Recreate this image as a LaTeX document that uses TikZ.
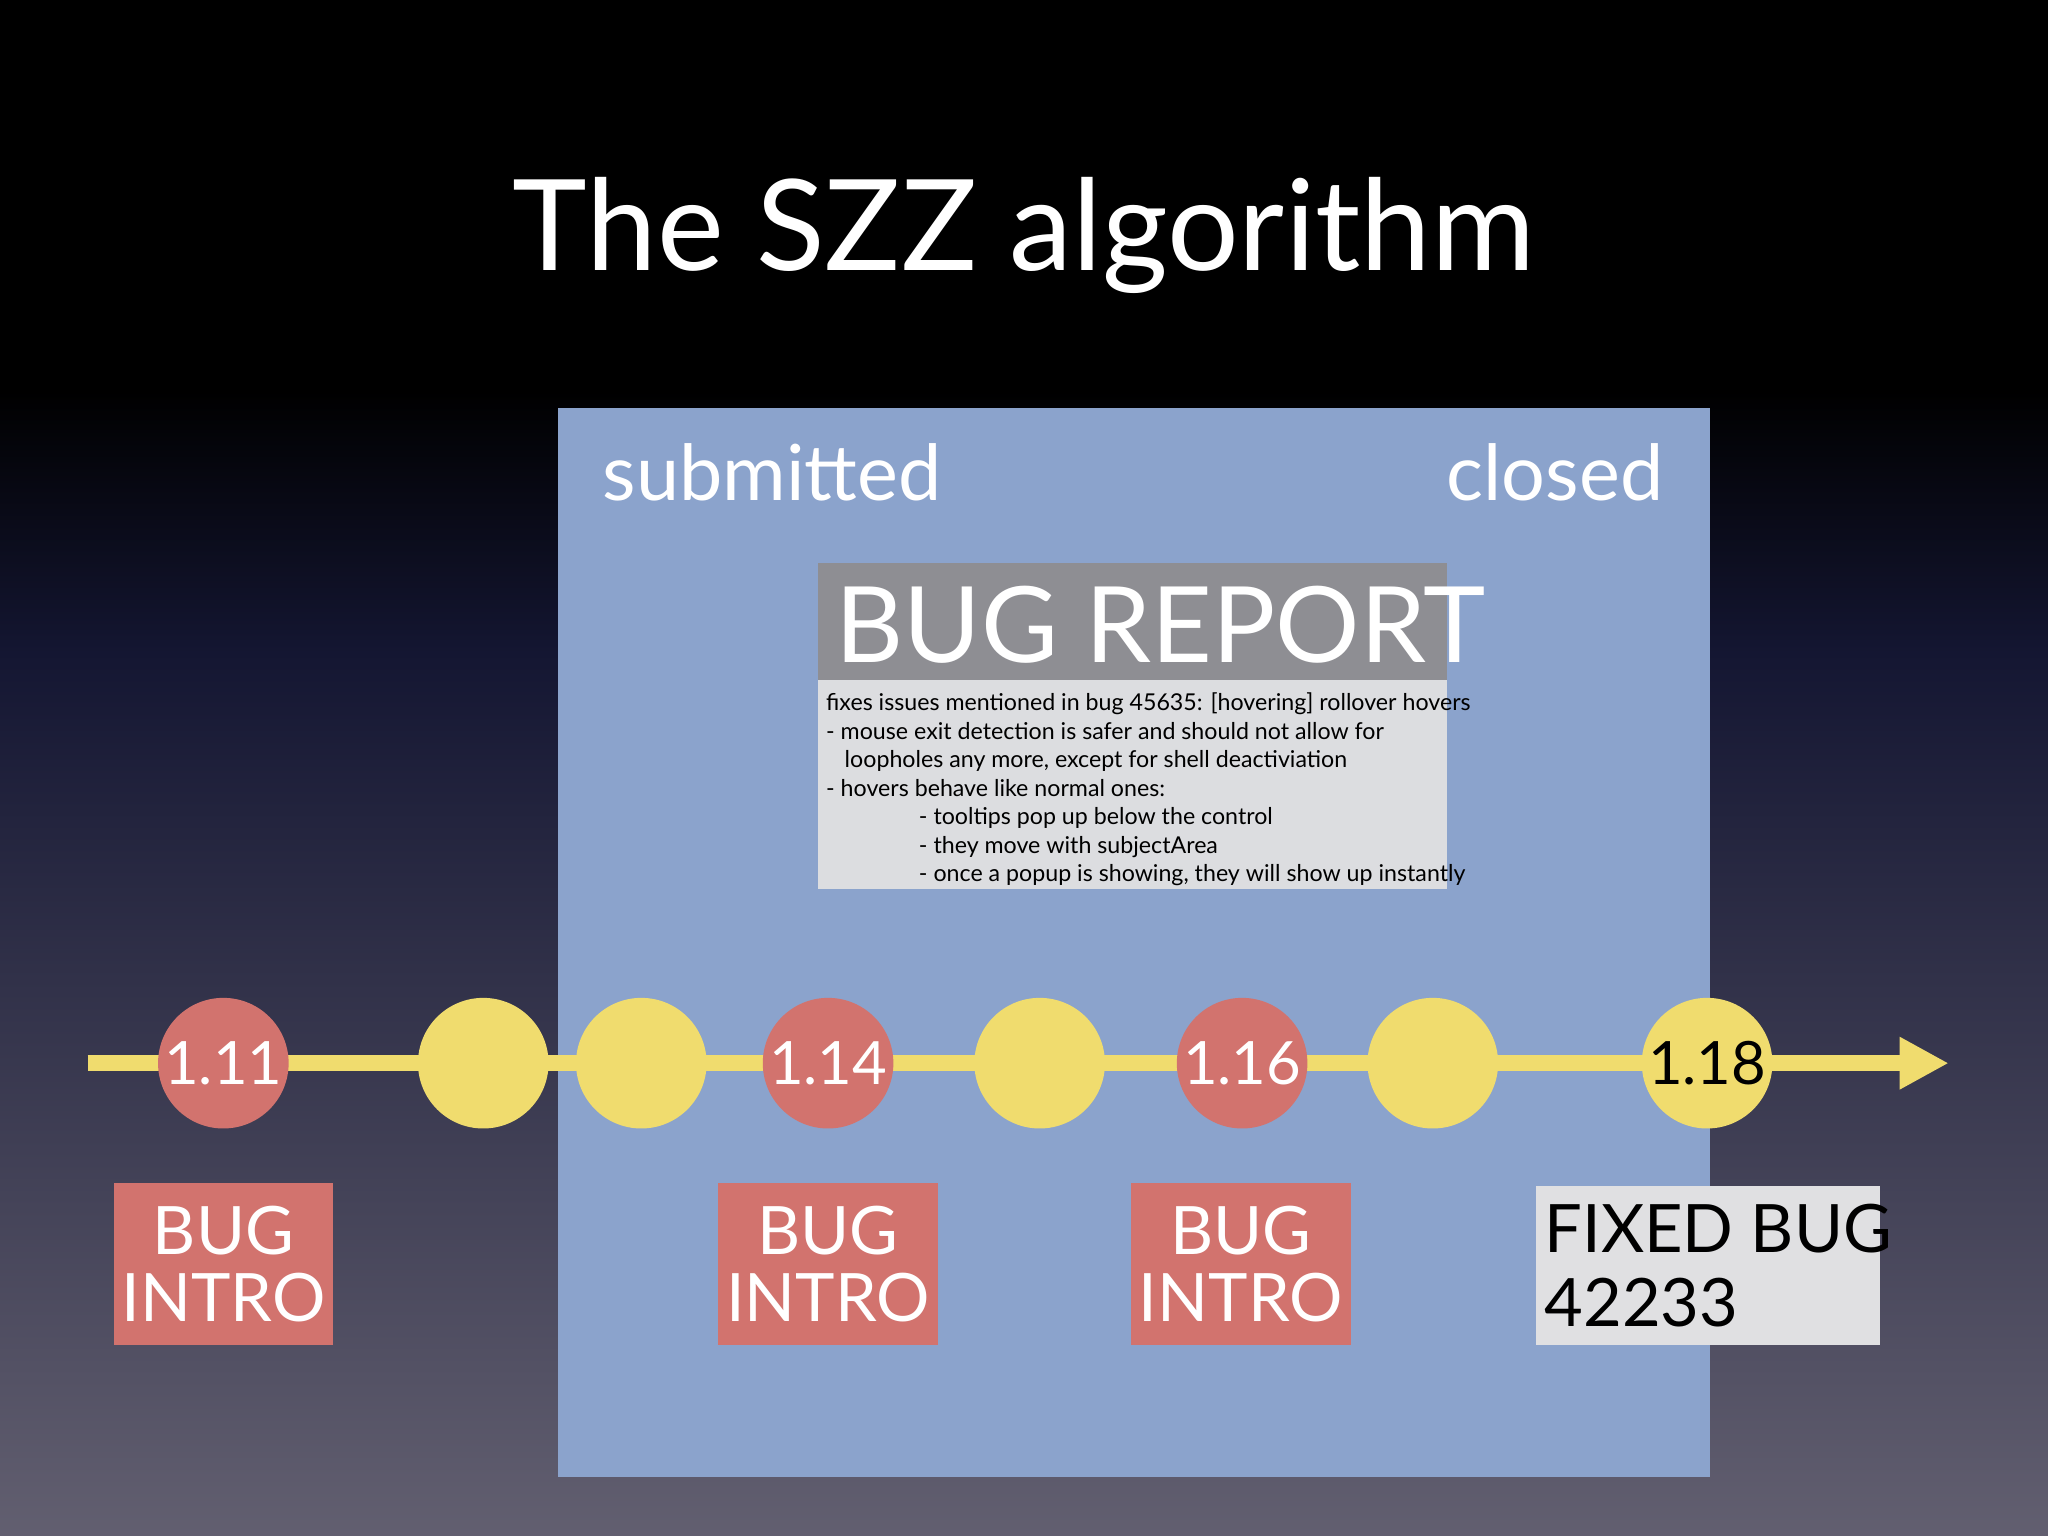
\documentclass[tikz,border=0pt]{standalone}
\usepackage{fontspec}
\setmainfont{Lato}
\usetikzlibrary{arrows.meta}
\definecolor{bluebg}{RGB}{139,163,204}
\definecolor{hdr}{RGB}{142,142,147}
\definecolor{txtbox}{RGB}{220,221,224}
\definecolor{yel}{RGB}{240,220,110}
\definecolor{redc}{RGB}{210,115,110}
\definecolor{fixbox}{RGB}{224,224,226}
\definecolor{bgbot}{RGB}{98,95,112}
\definecolor{bgmid}{RGB}{20,22,50}
\begin{document}
\begin{tikzpicture}[x=0.013061cm,y=-0.013061cm,
  ver/.style={circle,minimum size=100*0.013061cm,inner sep=0pt,font=\fontsize{17}{17}\selectfont},
  yv/.style={ver,fill=yel},
  rv/.style={ver,fill=redc,text=white},
  intro/.style={fill=redc,text=white,align=center,font=\fontsize{19}{19}\selectfont,minimum width=168*0.013061cm,minimum height=124*0.013061cm,inner sep=0pt}]
\useasboundingbox (0,0) rectangle (1568,1176);
\fill[black] (0,0) rectangle (1568,300);
\shade[top color=black,bottom color=bgmid] (0,299) rectangle (1568,500);
\shade[top color=bgmid,bottom color=bgbot] (0,499) rectangle (1568,1176);
\node[text=white,font=\fontsize{36}{36}\selectfont] (title) at (784,180) {The SZZ algorithm};
\fill[bluebg] (427,312) rectangle (1309,1131);
\node[text=white,anchor=west,font=\fontsize{22}{22}\selectfont] (sub) at (452,362) {submitted};
\node[text=white,anchor=east,font=\fontsize{22}{22}\selectfont] (clo) at (1283,362) {closed};
\fill[hdr] (626,431) rectangle (1108,521);
\node[text=white,anchor=west,font=\fontsize{30}{30}\selectfont] (br) at (630,478) {BUG REPORT};
\fill[txtbox] (626,521) rectangle (1108,681);
\node[anchor=north west,align=left,inner sep=0pt,font=\fontsize{6.6}{8.1}\selectfont] (rep) at (632,530) {fixes issues mentioned in bug 45635: [hovering] rollover hovers\\
- mouse exit detection is safer and should not allow for\\
\hspace*{0.8em}loopholes any more, except for shell deactiviation\\
- hovers behave like normal ones:\\
\hspace*{4em}- tooltips pop up below the control\\
\hspace*{4em}- they move with subjectArea\\
\hspace*{4em}- once a popup is showing, they will show up instantly};
\coordinate (s) at (67,814);
\coordinate (e) at (1492,814);
\draw[yel,line width=4.5pt,-{Triangle[length=14pt,width=14pt]}] (s) -- (e);
\node[rv] (v1) at (171,814) {1.11};
\node[yv] (v2) at (370,814) {};
\node[yv] (v3) at (491,814) {};
\node[rv] (v4) at (634,814) {1.14};
\node[yv] (v5) at (796,814) {};
\node[rv] (v6) at (951,814) {1.16};
\node[yv] (v7) at (1097,814) {};
\node[yv] (v8) at (1307,814) {1.18};
\node[intro] (b1) at (171,968) {BUG\\INTRO};
\node[intro] (b2) at (634,968) {BUG\\INTRO};
\node[intro] (b3) at (950,968) {BUG\\INTRO};
\fill[fixbox] (1176,908) rectangle (1439,1030);
\node[anchor=west,align=left,font=\fontsize{19}{21}\selectfont,inner sep=0pt] (fx) at (1182,969) {FIXED BUG\\42233};
\end{tikzpicture}
\end{document}
